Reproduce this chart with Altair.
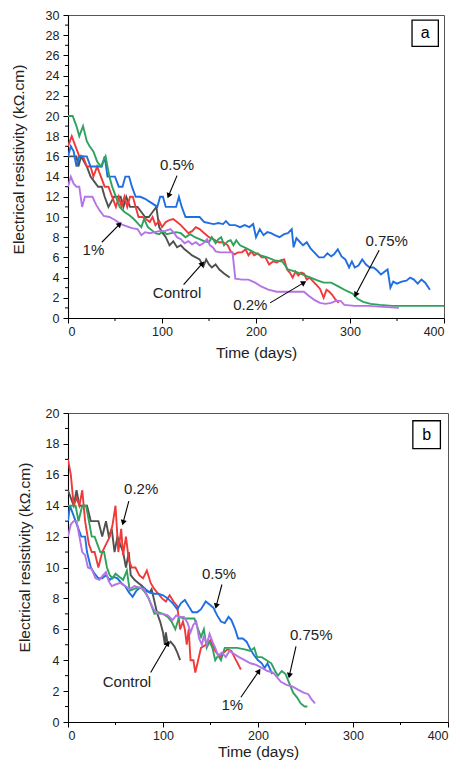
import math
import altair as alt
import pandas as pd

FONT = "Liberation Sans"
SERIES = ["Control", "0.2%", "0.5%", "0.75%", "1%"]
COLORS = ["#505050", "#f03a3a", "#1f6fe0", "#2fa25e", "#b574e6"]

# ---------------- panel (a) data: (time in days, resistivity kOhm.cm) ----------------
a_control = [(0, 16), (3, 16), (6, 16), (9, 16), (11, 15), (14, 16), (17, 15.5), (20, 15), (24, 14),
             (28, 13.5), (32, 13), (36, 13), (39, 12), (43, 11), (46, 11.5), (49, 12), (52, 12), (56, 12),
             (59, 11), (62, 12), (66, 11), (70, 11), (74, 11), (78, 10.5), (82, 10), (86, 10), (90, 10.5),
             (94, 11), (97, 9), (100, 8.5), (104, 8), (108, 7.2), (112, 7.6), (116, 7.0), (120, 7.2),
             (124, 6.8), (128, 6.5), (132, 6.2), (136, 6.0), (140, 5.8), (144, 5.1), (147, 5.8), (150, 5.3),
             (153, 5.0), (157, 5.3), (161, 4.8), (166, 4.4), (172, 4.0)]
a_p02 = [(0, 17), (4, 18), (8, 17), (12, 16), (16, 16), (20, 15), (24, 15), (27, 14), (31, 15), (35, 14),
         (39, 13), (43, 13), (47, 12), (51, 11), (54, 12), (57, 11), (60, 12), (63, 11), (66, 12), (69, 12),
         (72, 11), (75, 10), (79, 10), (83, 9.8), (87, 9.5), (90, 10), (93, 9.2), (97, 9.6), (100, 9.0),
         (104, 9.5), (108, 9.7), (112, 9.8), (116, 9.5), (120, 9.2), (124, 8.8), (128, 8.4), (132, 8.6),
         (136, 9.0), (140, 8.8), (145, 8.4), (150, 8.0), (155, 7.8), (160, 7.5), (165, 7.5), (170, 7.2),
         (173, 6.6), (177, 6.3), (181, 6.5), (185, 6.5), (189, 6.8), (192, 6.2), (195, 6.6), (198, 6.2),
         (202, 6.4), (206, 6.0), (210, 6.0), (214, 5.3), (218, 5.6), (222, 5.5), (226, 5.7), (230, 5.8),
         (233, 4.8), (236, 4.5), (239, 4.0), (242, 4.6), (245, 4.2), (248, 4.5), (251, 4.4), (254, 3.8),
         (257, 4.0), (260, 3.7), (264, 3.3), (268, 2.9), (272, 2.0), (275, 2.8), (278, 2.6), (281, 2.3),
         (284, 1.9), (288, 1.5)]
a_p05 = [(0, 16), (3, 17), (6, 16.5), (9, 15), (12, 16), (16, 16), (20, 16), (24, 15), (28, 15), (32, 15),
         (36, 15), (39, 16), (42, 14), (46, 14), (50, 14), (54, 13), (58, 13), (61, 14), (65, 14), (68, 13),
         (72, 12), (77, 12), (82, 11.8), (87, 11.5), (92, 11.2), (95, 11), (98, 12), (101, 12), (104, 11),
         (108, 11), (112, 11), (115, 11), (118, 12), (121, 11), (125, 10), (130, 10), (135, 10), (140, 10),
         (145, 9.5), (150, 9.4), (155, 9.3), (160, 9.4), (165, 9.3), (168, 9.6), (172, 9.2), (178, 9.2),
         (183, 9.0), (188, 9.2), (193, 9.0), (197, 9.3), (200, 8.0), (204, 8.8), (208, 8.2), (212, 8.5),
         (216, 8.4), (220, 8.2), (225, 8.0), (230, 8.3), (234, 8.4), (238, 8.8), (240, 7.0), (243, 7.9),
         (246, 7.6), (250, 7.2), (254, 7.5), (258, 6.9), (262, 6.5), (267, 6.0), (272, 6.0), (276, 6.4),
         (280, 6.1), (283, 6.3), (287, 6.8), (291, 6.1), (295, 5.8), (299, 5.0), (302, 5.6), (305, 5.0),
         (309, 5.2), (313, 5.8), (317, 5.3), (321, 5.0), (325, 5.0), (329, 4.7), (333, 4.3), (337, 4.6),
         (340, 4.8), (343, 3.0), (346, 3.6), (350, 3.4), (355, 3.6), (360, 3.7), (364, 4.0), (368, 3.8),
         (372, 3.4), (376, 3.8), (380, 3.5), (385, 2.8)]
a_p075 = [(0, 20), (5, 20), (9, 19), (12, 18), (16, 19), (20, 17.5), (23, 17), (27, 16.5), (31, 15.5),
          (35, 15), (40, 16), (44, 14), (47, 13), (51, 12), (55, 11), (60, 10.5), (65, 10.2), (70, 9.8),
          (74, 9.4), (78, 9.0), (81, 9.8), (85, 9.0), (89, 8.7), (93, 8.4), (97, 8.3), (101, 8.6), (105, 8.3),
          (110, 8.4), (115, 8.5), (120, 8.4), (125, 8.0), (130, 8.3), (135, 8.0), (140, 7.8), (145, 7.6),
          (150, 7.5), (153, 8.0), (157, 7.4), (160, 7.8), (163, 8.0), (166, 7.2), (170, 7.6), (173, 7.7),
          (176, 7.2), (179, 7.7), (183, 7.2), (190, 6.9), (198, 6.5), (205, 6.2), (212, 6.0), (220, 5.7),
          (228, 5.6), (234, 4.8), (242, 4.6), (250, 4.3), (258, 4.0), (266, 3.7), (272, 3.5), (280, 3.5),
          (288, 3.1), (296, 2.7), (303, 2.4), (308, 1.9), (314, 1.6), (322, 1.4), (332, 1.3), (345, 1.2),
          (360, 1.2), (380, 1.2), (400, 1.2)]
a_p1 = [(0, 13), (3, 14), (6, 13.3), (9, 13), (12, 13), (15, 11), (18, 12), (22, 12), (26, 12), (30, 11.2),
        (34, 10.6), (38, 10.1), (44, 10.0), (50, 9.7), (56, 9.3), (62, 9.1), (68, 8.9), (74, 8.8), (78, 8.2),
        (82, 8.5), (87, 8.4), (92, 8.5), (97, 8.6), (103, 8.6), (109, 8.8), (113, 8.4), (116, 8.0), (120, 7.8),
        (124, 7.4), (128, 7.6), (132, 7.3), (136, 7.5), (140, 7.2), (144, 7.4), (148, 7.8), (151, 7.2),
        (154, 7.0), (157, 6.6), (162, 6.5), (170, 6.5), (175, 6.5), (178, 3.9), (185, 3.8), (192, 3.8),
        (199, 3.5), (206, 3.1), (213, 2.8), (222, 2.6), (232, 2.6), (243, 2.6), (251, 2.6), (256, 2.2),
        (262, 1.8), (268, 1.5), (274, 1.4), (280, 1.5), (285, 1.7), (290, 1.7), (294, 1.3), (305, 1.2),
        (320, 1.2), (335, 1.1), (352, 1.0)]

a_labels = [("0.5%", 116, 15.1), ("1%", 27, 6.7), ("Control", 116, 2.5), ("0.2%", 194, 1.3), ("0.75%", 339, 7.6)]
a_arrows = [(116, 14.1, 107, 12.1), (36, 7.5, 55, 9.3), (123, 3.3, 143, 5.4), (215, 1.5, 251, 3.5), (331, 6.7, 306, 2.3)]
a_box = ("a", 366, 394, 26.9, 29.5)

# ---------------- panel (b) data ----------------
b_control = [(0, 15), (3, 14.5), (6, 14), (9, 15), (12, 14), (16, 14), (20, 14), (24, 13), (28, 13), (32, 13),
             (36, 12), (40, 13), (43, 12), (46, 12.5), (49, 11), (52, 12), (55, 11.5), (58, 11), (61, 10),
             (64, 11), (66, 9.5), (70, 9.2), (74, 9), (78, 8.8), (82, 8.5), (86, 8.4), (88, 8.6), (91, 7.8),
             (94, 7.0), (97, 6.5), (100, 5.8), (102, 5.0), (103, 5.8), (105, 5.0), (108, 5.2), (112, 4.9),
             (115, 4.5), (118, 4.0)]
b_p02 = [(0, 17), (3, 16), (6, 14), (9, 14.5), (12, 14), (15, 15), (18, 13), (22, 11.5), (25, 11), (28, 11),
         (32, 10), (36, 11), (40, 11.5), (44, 12), (47, 12.8), (50, 14), (53, 11), (56, 12.5), (58, 10.8),
         (61, 12), (64, 10.5), (67, 10), (71, 10), (75, 9.5), (79, 9.3), (83, 9.8), (87, 9.0), (91, 8.6),
         (95, 8.3), (99, 8.0), (103, 7.8), (107, 8.2), (111, 7.8), (115, 7.5), (118, 6.0), (121, 6.5),
         (123, 6.0), (125, 5.0), (127, 6.0), (129, 4.0), (132, 4.0), (134, 3.2), (137, 4.0), (140, 4.8),
         (145, 5.0), (150, 5.3), (155, 4.6), (160, 4.2), (164, 4.5), (168, 4.7), (172, 4.6), (176, 4.1),
         (182, 3.4)]
b_p05 = [(0, 13), (2, 14), (5, 13.5), (8, 13), (11, 12.5), (14, 12), (18, 12), (20, 11), (24, 10), (28, 9.6),
         (32, 9.3), (36, 9.3), (40, 9.5), (44, 9.2), (48, 9.4), (52, 9.3), (56, 9.0), (60, 8.8), (64, 8.4),
         (68, 8.1), (72, 8.5), (76, 8.7), (80, 8.7), (85, 8.4), (90, 8.3), (95, 8.3), (100, 8.2), (105, 8.0),
         (110, 7.7), (115, 7.3), (119, 7.7), (123, 7.9), (127, 7.5), (131, 7.1), (136, 7.1), (140, 7.3),
         (145, 7.8), (149, 7.6), (153, 7.4), (157, 6.9), (161, 6.5), (165, 6.4), (169, 6.8), (172, 6.6),
         (176, 6.0), (179, 5.4), (184, 5.4), (188, 5.2), (192, 4.7), (196, 4.3), (200, 4.0), (204, 3.8),
         (207, 3.5), (210, 3.8), (215, 3.1)]
b_p075 = [(0, 14), (4, 14), (8, 14), (11, 13), (15, 14), (19, 14), (22, 13), (25, 12), (28, 12), (31, 11.5),
          (34, 11), (38, 11), (41, 10), (44, 9.5), (47, 9.3), (50, 9.6), (54, 9.4), (58, 9.2), (62, 9.8),
          (65, 8.5), (69, 8.6), (73, 8.7), (77, 8.7), (81, 8.4), (85, 8.0), (88, 7.5), (91, 7.0), (95, 7.1),
          (100, 7.0), (105, 6.8), (109, 6.5), (113, 6.0), (117, 6.8), (122, 6.7), (127, 6.7), (133, 6.7),
          (137, 6.0), (140, 5.5), (143, 6.0), (146, 4.8), (149, 5.2), (152, 4.8), (155, 4.0), (158, 4.3),
          (161, 4.0), (165, 4.8), (170, 4.8), (178, 4.8), (186, 4.7), (192, 4.6), (196, 4.8), (199, 4.2),
          (204, 4.2), (209, 4.0), (214, 3.8), (218, 3.3), (221, 3.0), (225, 3.3), (229, 3.1), (233, 2.5),
          (237, 1.9), (241, 1.6), (245, 1.2), (249, 1.0), (252, 1.0)]
b_p1 = [(0, 12), (3, 12.8), (6, 13), (9, 13), (12, 12), (15, 11), (18, 10.8), (21, 10), (25, 9.9), (29, 9.3),
        (33, 9.2), (37, 9.5), (40, 9.7), (43, 9.1), (46, 8.8), (50, 8.9), (55, 9.0), (60, 8.8), (65, 8.6),
        (70, 8.8), (75, 8.7), (80, 8.6), (84, 8.1), (87, 7.7), (90, 7.3), (95, 7.0), (100, 7.0), (105, 6.9),
        (110, 6.6), (114, 6.9), (118, 6.8), (122, 6.8), (126, 6.4), (129, 5.8), (132, 6.3), (135, 6.5),
        (138, 5.4), (141, 5.0), (143, 5.6), (146, 5.0), (149, 5.7), (152, 5.2), (155, 4.8), (158, 4.3),
        (162, 4.5), (166, 4.2), (170, 4.6), (175, 4.4), (180, 4.2), (186, 4.0), (192, 3.8), (198, 3.7),
        (204, 3.5), (210, 3.3), (216, 3.2), (220, 2.9), (224, 2.6), (230, 2.4), (236, 2.3), (242, 2.1),
        (248, 1.9), (253, 1.8), (256, 1.5), (260, 1.2)]

b_labels = [("0.2%", 77, 15.1), ("0.5%", 159, 9.6), ("0.75%", 256, 5.6), ("Control", 62, 2.6), ("1%", 173, 1.1)]
b_arrows = [(64, 14.3, 58, 12.9), (162, 8.9, 156, 7.5), (240, 4.9, 233, 3.0), (87, 3.2, 105, 5.1), (182, 1.6, 201, 3.3)]
b_box = ("b", 363, 392, 17.7, 19.5)

XMAX = 400
X_MAJOR = [0, 100, 200, 300, 400]
X_MINOR = [50, 150, 250, 350]
Y_TITLE = "Electrical resistivity (kΩ.cm)"


def lines_df(series_lists):
    rows = []
    for name, pts in zip(SERIES, series_lists):
        for i, (t, v) in enumerate(pts):
            rows.append({"series": name, "t": t, "v": v, "o": i})
    return pd.DataFrame(rows)


def panel(series_lists, labels, arrows, box, ymax, W, H, title_pad, xtitle_pad):
    xs = alt.Scale(domain=[0, XMAX], nice=False, zero=False)
    ys = alt.Scale(domain=[0, ymax], nice=False, zero=False)
    xa = alt.Axis(
        values=X_MAJOR, tickSize=5, labelOverlap=False, labelFlush=True, grid=False,
        title="Time (days)", titlePadding=xtitle_pad, labelPadding=2,
    )
    ya = alt.Axis(
        values=list(range(0, ymax + 1, 2)), tickSize=5, labelOverlap=False, labelFlush=False,
        labelSeparation=0, grid=False, title=Y_TITLE, titlePadding=title_pad, labelPadding=4,
        titleY=144,
    )

    def X(f):
        return alt.X(f, scale=xs, axis=xa)

    def Y(f):
        return alt.Y(f, scale=ys, axis=ya)

    ld = lines_df(series_lists)
    lines = alt.Chart(ld).mark_line(strokeWidth=1.9, clip=True).encode(
        x=X("t:Q"), y=Y("v:Q"),
        color=alt.Color("series:N", scale=alt.Scale(domain=SERIES, range=COLORS), legend=None),
        order="o:Q",
    )

    # minor ticks (odd y values, mid-hundred x values)
    ymd = pd.DataFrame({"m": list(range(1, ymax, 2))})
    yminor = alt.Chart(ymd).mark_rule(color="black", strokeWidth=1).encode(
        y=Y("m:Q"), x=alt.value(-3), x2=alt.value(0),
    )
    xmd = pd.DataFrame({"m": X_MINOR})
    xminor = alt.Chart(xmd).mark_rule(color="black", strokeWidth=1).encode(
        x=X("m:Q"), y=alt.value(H), y2=alt.value(H + 3),
    )

    pxx = W / XMAX
    pxy = H / ymax
    arr_rows = []
    for (t1, v1, t2, v2) in arrows:
        dx = (t2 - t1) * pxx
        dy = -(v2 - v1) * pxy
        ang = math.degrees(math.atan2(dx, -dy)) % 360
        arr_rows.append({"t1": t1, "v1": v1, "t2": t2, "v2": v2, "ang": ang})
    ad = pd.DataFrame(arr_rows)
    shafts = alt.Chart(ad).mark_rule(color="black", strokeWidth=1.1).encode(
        x=X("t1:Q"), y=Y("v1:Q"), x2="t2:Q", y2="v2:Q",
    )
    heads = alt.Chart(ad).mark_point(shape="triangle-up", filled=True, color="black",
                                      opacity=1, size=38).encode(
        x=X("t2:Q"), y=Y("v2:Q"), angle=alt.Angle("ang:Q", scale=None),
    )
    td = pd.DataFrame([{"lab": l, "t": t, "v": v} for (l, t, v) in labels])
    texts = alt.Chart(td).mark_text(font=FONT, fontSize=15, color="#222222").encode(
        x=X("t:Q"), y=Y("v:Q"), text="lab:N",
    )
    tag, bx1, bx2, by1, by2 = box
    bd = pd.DataFrame([{"tag": tag, "x1": bx1, "x2": bx2, "y1": by1, "y2": by2,
                        "xm": (bx1 + bx2) / 2, "ym": (by1 + by2) / 2}])
    rect = alt.Chart(bd).mark_rect(fill="white", stroke="black", strokeWidth=1.3).encode(
        x=X("x1:Q"), x2="x2:Q", y=Y("y1:Q"), y2="y2:Q",
    )
    rtext = alt.Chart(bd).mark_text(font=FONT, fontSize=16, color="black").encode(
        x=X("xm:Q"), y=Y("ym:Q"), text="tag:N",
    )
    return alt.layer(lines, yminor, xminor, shafts, heads, texts, rect, rtext).properties(width=W, height=H)


pa = panel([a_control, a_p02, a_p05, a_p075, a_p1], a_labels, a_arrows, a_box, 30, 376, 303, 19, 8)
pb = panel([b_control, b_p02, b_p05, b_p075, b_p1], b_labels, b_arrows, b_box, 20, 380, 309, 13, 3)

chart = alt.vconcat(pa, pb, spacing=44).properties(
    padding={"left": 2, "top": 0, "right": 3, "bottom": 0},
    background="white",
).configure_view(stroke="#555555", strokeWidth=1).configure_axis(
    grid=False, domainColor="black", tickColor="black", domainWidth=1.1, tickWidth=1,
    labelOverlap=False, labelSeparation=0,
    labelFont=FONT, labelFontSize=12.5, labelColor="#222222",
    titleFont=FONT, titleFontSize=15.5, titleFontWeight="normal", titleColor="#222222",
).configure_axisY(labelOverlap=False)

chart.save("out.html", embed_options={"renderer": "svg", "actions": False})
